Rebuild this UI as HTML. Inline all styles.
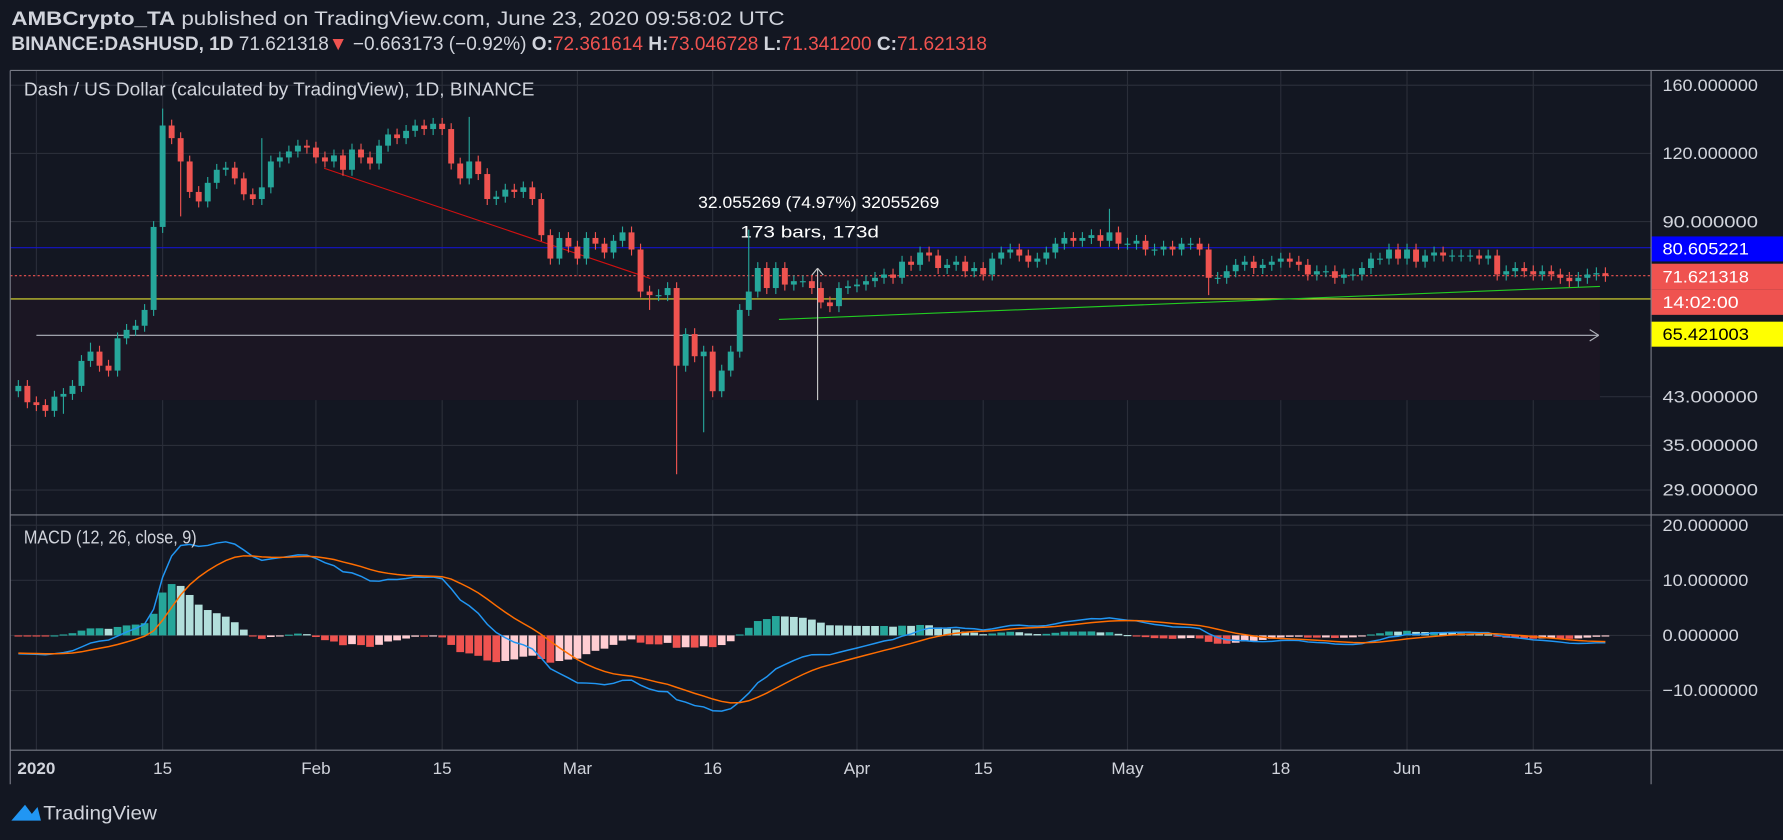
<!DOCTYPE html>
<html><head><meta charset="utf-8"><style>
html,body{margin:0;padding:0;background:#131722;overflow:hidden}
svg{display:block}
text{font-family:"Liberation Sans",sans-serif}
</style></head><body>
<svg id="c" width="1783" height="840" viewBox="0 0 1568 739" preserveAspectRatio="none" xmlns="http://www.w3.org/2000/svg">
<rect x="0" y="0" width="1568" height="739" fill="#131722"/>
<text x="10" y="22" fill="#d1d4dc" font-size="17" textLength="680" lengthAdjust="spacingAndGlyphs"><tspan font-weight="bold">AMBCrypto_TA</tspan> published on TradingView.com, June 23, 2020 09:58:02 UTC</text>
<text x="10" y="44" fill="#d1d4dc" font-size="17" textLength="858" lengthAdjust="spacingAndGlyphs"><tspan font-weight="bold">BINANCE:DASHUSD, 1D</tspan> 71.621318<tspan fill="#ef5350">▼</tspan> −0.663173 (−0.92%) <tspan font-weight="bold">O:</tspan><tspan fill="#ef5350">72.361614</tspan> <tspan font-weight="bold">H:</tspan><tspan fill="#ef5350">73.046728</tspan> <tspan font-weight="bold">L:</tspan><tspan fill="#ef5350">71.341200</tspan> <tspan font-weight="bold">C:</tspan><tspan fill="#ef5350">71.621318</tspan></text>
<g id="grid"></g>
<rect x="9" y="243" width="1398" height="109" fill="#1b1623"/>
<g id="overlay"></g>
<g id="candles"></g>
<g id="macd"></g>
<g id="axes"></g>
<line x1="9" y1="62" x2="9" y2="690" stroke="#787b86"/>
<line x1="9" y1="62" x2="1568" y2="62" stroke="#787b86"/>
<line x1="1452" y1="62" x2="1452" y2="690" stroke="#787b86"/>
<line x1="9" y1="453" x2="1568" y2="453" stroke="#787b86"/>
<line x1="9" y1="660" x2="1568" y2="660" stroke="#787b86"/>
<text x="21" y="84" fill="#d1d4dc" font-size="16" textLength="449" lengthAdjust="spacingAndGlyphs">Dash / US Dollar (calculated by TradingView), 1D, BINANCE</text>
<text x="21" y="478" fill="#d1d4dc" font-size="16" textLength="152" lengthAdjust="spacingAndGlyphs">MACD (12, 26, close, 9)</text>
<g><path d="M10 722 L22 708 L28 716 L33 710 L36 722 Z" fill="#2196f3"/><text x="38" y="721" fill="#d1d4dc" font-size="17" textLength="100" lengthAdjust="spacingAndGlyphs">TradingView</text></g>
</svg>
<script>
const closesJan=[45,42,41.5,40.5,43,43.5,45,50,52,49,48,55,57,58,62,88,135,128,116,102,98,106,112,113,108,101,99,104,116,118,121,124,123];
const closesFeb=[118,116,119,112,122,118,115,124,130,128,132,135,133,136,133,115,108,116,110,99,100,103,102,104,99,85,77,84,81];
const closesMar=[77,84,82,79,83,86,80,67,66,66,68,49,56,51,52,44,48,52,62,67,74,68,74,69,70,70,68,64,63,68,68.5];
const closesApr=[69,70,71,72,71,76,75,79,78,74,75,76,73,74,72,77,79,80,78,76,77,79,82,84,83,84,85,83,86,82];
const closesMay=[82,83,80,80,81,80,82,82,80,71,71,73,75,76,74,75,76,77,76,75,72,73,73,71,72,72,74,77,77,80,77];
const closesJun=[80,76,78,79,78,78,78,78,77,78,72,73,74,73,72,73,72,71,70,71,72,72.4,71.6];
const firstOpen=44;
const ema12Seed=46;
const ema26Seed=49.5;
const signalSeed=-3.2;
const highIdx=[16,50,81,121,27,8];
const highVal=[145,140,87,95,128,54];
const lowIdx=[73,76,70,18,5,132];
const lowVal=[31,37,62,92,40,66];
const priceTicks=[160,120,90,43,35,29];
const macdTicks=[20,10,0,-10];
const macdTickLabels=["20.000000","10.000000","0.000000","−10.000000"];
const dateTickDays=[0,14,31,45,60,75,91,105,121,138,152,166];
const dateTickLabels=["2020","15","Feb","15","Mar","16","Apr","15","May","18","Jun","15"];

const NS="http://www.w3.org/2000/svg";
function mk(tag,attrs,parent){const e=document.createElementNS(NS,tag);for(const k in attrs)e.setAttribute(k,attrs[k]);parent.appendChild(e);return e;}
const X=d=>32+d*7.93;
const Y=p=>75+(Math.log(160)-Math.log(p))*208.5;
const MY=v=>559-v*4.85;
const closes=[].concat(closesJan,closesFeb,closesMar,closesApr,closesMay,closesJun);
const grid=document.getElementById('grid'),axes=document.getElementById('axes');
function lab(x,y,txt,name,extra){const t=mk('text',Object.assign({x:x,y:y,fill:'#d1d4dc','font-size':15},extra||{}),axes);t.textContent=txt;return t;}
dateTickDays.forEach((d,i)=>{
 const l=mk('line',{x1:X(d),x2:X(d),y1:62,y2:660,stroke:'#2a2e39'},grid);
 
 lab(X(d),681,dateTickLabels[i],'x-tick-label',{'text-anchor':'middle','font-weight':i==0?'bold':'normal'});
});
priceTicks.forEach(p=>{
 const l=mk('line',{x1:9,x2:1452,y1:Y(p),y2:Y(p),stroke:'#2a2e39'},grid);
 
 lab(1462,Y(p)+5,p.toFixed(6),'price-tick-label',{textLength:84,lengthAdjust:'spacingAndGlyphs'});
});
macdTicks.forEach((v,i)=>{
 const l=mk('line',{x1:9,x2:1452,y1:MY(v),y2:MY(v),stroke:'#2a2e39'},grid);
 
 const tl=macdTickLabels[i];
 lab(1462,MY(v)+5,tl,'macd-tick-label',{textLength:tl.length*8.4,lengthAdjust:'spacingAndGlyphs'});
});
const ov=document.getElementById('overlay');
function ln(a,name){const e=mk('line',a,ov);return e;}
ln({x1:9,x2:1452,y1:Y(80.605221),y2:Y(80.605221),stroke:'#1414c8'},'level-line-80');
ln({x1:9,x2:1452,y1:263,y2:263,stroke:'#e0e030'},'yellow-level-line');
ln({x1:32,x2:1405,y1:295,y2:295,stroke:'#b2b5be'},'white-level-line');
ln({x1:1398,x2:1406,y1:290,y2:295,stroke:'#b2b5be'},'arrow-head');
ln({x1:1398,x2:1406,y1:300,y2:295,stroke:'#b2b5be'},'arrow-head');
ln({x1:9,x2:1452,y1:Y(71.621318),y2:Y(71.621318),stroke:'#ef5350','stroke-dasharray':'2,2'},'last-price-line');
ln({x1:285,x2:572,y1:148,y2:245,stroke:'#d01010'},'red-trendline');
ln({x1:685,x2:1407,y1:281,y2:252,stroke:'#22cc22'},'green-trendline');
ln({x1:719,x2:719,y1:236,y2:352,stroke:'#c8c8c8'},'measure-line');
ln({x1:714,x2:719,y1:242,y2:236,stroke:'#c8c8c8'},'measure-arrow');
ln({x1:724,x2:719,y1:242,y2:236,stroke:'#c8c8c8'},'measure-arrow');
let t=mk('text',{x:720,y:183,fill:'#fff','font-size':15,'text-anchor':'middle',textLength:212,lengthAdjust:'spacingAndGlyphs'},ov);t.textContent='32.055269 (74.97%) 32055269';
t=mk('text',{x:712,y:209,fill:'#fff','font-size':15,'text-anchor':'middle',textLength:122,lengthAdjust:'spacingAndGlyphs'},ov);t.textContent='173 bars, 173d';
const cg=document.getElementById('candles');
closes.forEach((c,i)=>{
 const o=i==0?firstOpen:closes[i-1];
 let h=Math.max(o,c)*1.025,l=Math.min(o,c)*0.975;
 const hi=highIdx.indexOf(i);if(hi>=0)h=highVal[hi];
 const li=lowIdx.indexOf(i);if(li>=0)l=lowVal[li];
 const x=X(i-2),col=c>=o?'#26a69a':'#ef5350';
 const w=mk('line',{x1:x,x2:x,y1:Y(h),y2:Y(l),stroke:col},cg);
 
 const top=Y(Math.max(o,c)),bot=Y(Math.min(o,c));
 const r=mk('rect',{x:x-2.6,y:top,width:5.2,height:Math.max(1,bot-top),fill:col},cg);
 
});
function ema(arr,n,seed){const k=2/(n+1);const out=[];let e=seed;arr.forEach(v=>{e=v*k+e*(1-k);out.push(e);});return out;}
const e12=ema(closes,12,ema12Seed),e26=ema(closes,26,ema26Seed);
const macd=closes.map((_,i)=>e12[i]-e26[i]);
const sig=ema(macd,9,signalSeed);
const mg=document.getElementById('macd');
macd.forEach((m,i)=>{
 const h=m-sig[i],ph=i?macd[i-1]-sig[i-1]:0;
 const col=h>=0?(h>=ph?'#26a69a':'#b2dfdb'):(h<ph?'#ef5350':'#ffcdd2');
 const x=X(i-2);
 const r=mk('rect',{x:x-3.4,y:Math.min(MY(h),MY(0)),width:6.8,height:Math.max(1,Math.abs(MY(h)-MY(0))),fill:col},mg);
 
});
const pm=mk('polyline',{points:macd.map((v,i)=>X(i-2)+','+MY(v)).join(' '),fill:'none',stroke:'#2196f3','stroke-width':1.3},mg);

const ps=mk('polyline',{points:sig.map((v,i)=>X(i-2)+','+MY(v)).join(' '),fill:'none',stroke:'#ff6d00','stroke-width':1.3},mg);

function box(y,h,bg,fg,txt,name,tl){const g=mk('g',{},axes);
 mk('rect',{x:1452,y:y,width:116,height:h,fill:bg},g);const tt=mk('text',{x:1462,y:y+h/2+5,fill:fg,'font-size':15,textLength:tl,lengthAdjust:'spacingAndGlyphs'},g);tt.textContent=txt;}
box(208,22,'#0000ff','#fff','80.605221','label-80',76);
box(232,23,'#ef5350','#fff','71.621318','label-last-price',76);
box(255,22,'#ef5350','#fff','14:02:00','label-countdown',67);
box(283,22,'#ffff00','#000','65.421003','label-65',76);
</script>
</body></html>
